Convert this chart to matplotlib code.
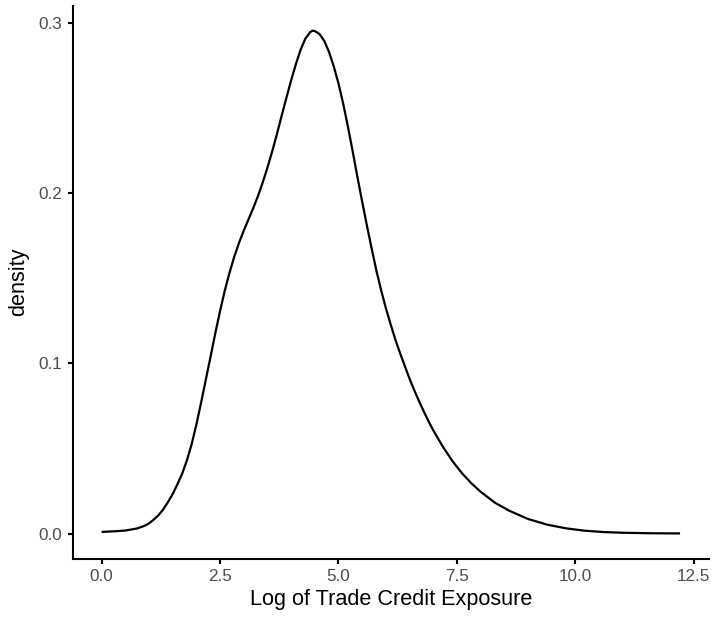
import matplotlib
matplotlib.use('Agg')
import matplotlib.pyplot as plt

# density curve
log_exposure = [0.0, 0.3, 0.5, 0.75, 0.9, 1.0, 1.1, 1.2, 1.3, 1.4,
                1.5, 1.6, 1.7, 1.8, 1.9, 2.0, 2.1, 2.2, 2.3, 2.4,
                2.5, 2.6, 2.7, 2.8, 2.9, 3.0, 3.1, 3.2, 3.3, 3.4,
                3.5, 3.6, 3.7, 3.8, 3.9, 4.0, 4.1, 4.2, 4.3, 4.4,
                4.45, 4.5, 4.6, 4.7, 4.8, 4.9, 5.0, 5.1, 5.2, 5.3,
                5.4, 5.5, 5.6, 5.7, 5.8, 5.9, 6.0, 6.1, 6.2, 6.3,
                6.4, 6.5, 6.6, 6.7, 6.8, 6.9, 7.0, 7.2, 7.4, 7.6,
                7.8, 8.0, 8.3, 8.6, 9.0, 9.4, 9.8, 10.2, 10.6, 11.0,
                11.6, 12.21]
density = [0.0010, 0.0014, 0.0018, 0.0030, 0.0045, 0.0060, 0.0082, 0.0108, 0.0142, 0.0185,
           0.0232, 0.0290, 0.0352, 0.0430, 0.0525, 0.0640, 0.0770, 0.0905, 0.1040, 0.1178,
           0.1308, 0.1428, 0.1533, 0.1627, 0.1708, 0.1780, 0.1846, 0.1912, 0.1983, 0.2063,
           0.2150, 0.2245, 0.2347, 0.2455, 0.2560, 0.2663, 0.2758, 0.2843, 0.2908, 0.2946,
           0.2955, 0.2953, 0.2935, 0.2895, 0.2830, 0.2745, 0.2645, 0.2525, 0.2390, 0.2245,
           0.2095, 0.1950, 0.1810, 0.1675, 0.1545, 0.1430, 0.1325, 0.1230, 0.1140, 0.1060,
           0.0985, 0.0910, 0.0842, 0.0778, 0.0718, 0.0660, 0.0607, 0.0512, 0.0428, 0.0357,
           0.0297, 0.0246, 0.0182, 0.0135, 0.0086, 0.0053, 0.0031, 0.0017, 0.0009, 0.0005,
           0.0002, 0.0001]

x_ticks = [0.0, 2.5, 5.0, 7.5, 10.0, 12.5]
y_ticks = [0.0, 0.1, 0.2, 0.3]

plt.rcParams['font.family'] = ['Liberation Sans', 'DejaVu Sans']

fig = plt.figure(figsize=(7.14, 6.17), dpi=100)
ax = fig.add_axes([0.1018, 0.0947, 0.8912, 0.8963])

ax.plot(log_exposure, density, color='black', linewidth=1.6,
        solid_joinstyle='round', solid_capstyle='butt')

xr = max(log_exposure) - min(log_exposure)
yr = max(density) - min(density)
ax.set_xlim(min(log_exposure) - 0.05 * xr, max(log_exposure) + 0.05 * xr)
ax.set_ylim(min(density) - 0.05 * yr, max(density) + 0.05 * yr)

ax.set_xticks(x_ticks)
ax.set_xticklabels(['%.1f' % v for v in x_ticks])
ax.set_yticks(y_ticks)
ax.set_yticklabels(['%.1f' % v for v in y_ticks])

for side in ['top', 'right']:
    ax.spines[side].set_visible(False)
for side in ['left', 'bottom']:
    ax.spines[side].set_linewidth(1.5)

ax.tick_params(axis='both', length=3.8, width=1.5, color='black',
               labelcolor='#4D4D4D', labelsize=12.3, pad=3.5)

ax.set_xlabel('Log of Trade Credit Exposure', fontsize=15.6, labelpad=4)
ax.set_ylabel('density', fontsize=15.6, labelpad=7)

fig.savefig('out.png', dpi=100)
